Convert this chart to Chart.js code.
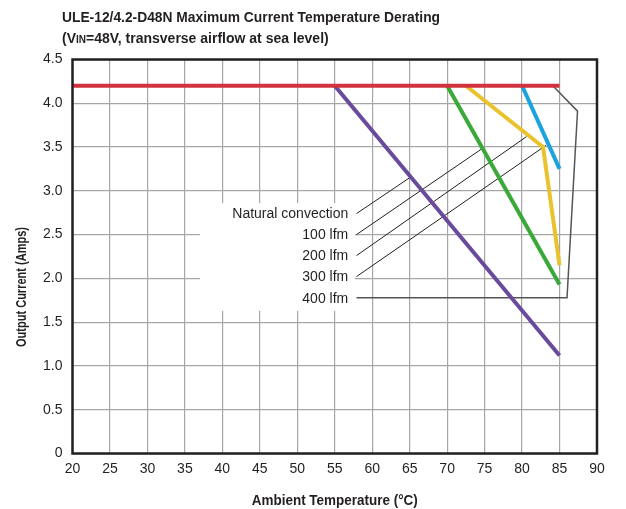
<!DOCTYPE html>
<html><head><meta charset="utf-8">
<script src="https://cdn.jsdelivr.net/npm/chart.js@4/dist/chart.umd.min.js"></script>
<style>html,body{margin:0;padding:0;background:#fff}canvas{display:block}</style>
</head><body>
<canvas id="c" width="626" height="509"></canvas>
<script>
// ---- data ----
const xTickValues = [20,25,30,35,40,45,50,55,60,65,70,75,80,85,90];
const yTickValues = [0,0.5,1.0,1.5,2.0,2.5,3.0,3.5,4.0,4.5];
const seriesNames = ['Natural convection','100 lfm','200 lfm','300 lfm','400 lfm'];

const natTemp   = [55, 85];          const natCurr   = [4.2, 1.12];
const lfm100Temp = [70, 85];         const lfm100Curr = [4.2, 1.93];
const lfm200Temp = [72.5, 82.8, 85]; const lfm200Curr = [4.2, 3.5, 2.15];
const lfm300Temp = [80, 85];         const lfm300Curr = [4.2, 3.25];
const lfm400Temp = [20, 85];         const lfm400Curr = [4.2, 4.2];

// leader lines (label -> curve), in data units
const leadNatX = [57.9, 65.0];  const leadNatY = [2.74, 3.15];
const lead100X = [57.9, 74.8];  const lead100Y = [2.50, 3.49];
const lead200X = [57.9, 80.6];  const lead200Y = [2.26, 3.62];
const lead300X = [57.9, 83.2];  const lead300Y = [2.02, 3.52];
const lead400X = [57.9, 86.0, 87.4, 84.1]; const lead400Y = [1.78, 1.78, 3.91, 4.2];

const labelX = 56.8;
const labelY = [2.74, 2.50, 2.26, 2.02, 1.78];

const title1 = 'ULE-12/4.2-D48N Maximum Current Temperature Derating';
const xTitle = 'Ambient Temperature (°C)';
const yTitle = 'Output Current (Amps)';

const pts = (xs, ys) => xs.map((x, i) => ({x, y: ys[i]}));
const TXT = '#231f20';
const FONT = "'Liberation Sans', Arial, sans-serif";

function curve(label, xs, ys, color, order) {
  return {label, data: pts(xs, ys), borderColor: color, backgroundColor: color,
    borderWidth: 4, pointRadius: 0, showLine: true, tension: 0, order,
    borderCapStyle: 'butt', borderJoinStyle: 'miter'};
}
function leader(xs, ys, color, w) {
  return {label: 'leader', data: pts(xs, ys), borderColor: color, borderWidth: w,
    pointRadius: 0, showLine: true, tension: 0, order: 20};
}

function drawRuns(ctx, runs, x, y, targetW) {
  let w = 0;
  runs.forEach(r => { ctx.font = r.font; w += ctx.measureText(r.t).width; });
  const s = targetW ? Math.min(1, targetW / w) : 1;
  ctx.save();
  ctx.translate(x, y);
  ctx.scale(s, 1);
  let cx = 0;
  runs.forEach(r => { ctx.font = r.font; ctx.fillText(r.t, cx, 0); cx += ctx.measureText(r.t).width; });
  ctx.restore();
}

const deco = {
  id: 'deco',
  beforeDatasetsDraw(chart) {
    const {ctx, scales: {x, y}} = chart;
    ctx.save();
    ctx.fillStyle = '#fff';
    const x0 = x.getPixelForValue(37.0), x1 = x.getPixelForValue(57.7);
    const y0 = y.getPixelForValue(2.86), y1 = y.getPixelForValue(1.63);
    ctx.fillRect(x0, y0, x1 - x0, y1 - y0);
    ctx.restore();
  },
  afterDatasetsDraw(chart) {
    const {ctx, chartArea: a, scales: {x, y}} = chart;
    ctx.save();
    ctx.strokeStyle = TXT;
    ctx.lineWidth = 2.5;
    ctx.strokeRect(a.left, a.top, a.right - a.left, a.bottom - a.top);
    ctx.fillStyle = TXT;
    ctx.textAlign = 'right';
    ctx.textBaseline = 'middle';
    ctx.font = '14px ' + FONT;
    seriesNames.forEach((n, i) => {
      const w = ctx.measureText(n).width;
      ctx.fillText(n, x.getPixelForValue(labelX), y.getPixelForValue(labelY[i]) + 1);
    });
    ctx.restore();
  },
  afterDraw(chart) {
    const {ctx, chartArea: a} = chart;
    ctx.save();
    ctx.fillStyle = TXT;
    ctx.textBaseline = 'alphabetic';
    ctx.textAlign = 'left';
    const B = 'bold 14px ' + FONT, Bs = 'bold 10px ' + FONT;
    drawRuns(ctx, [{t: title1, font: B}], 62, 22, 378);
    drawRuns(ctx, [{t: '(V', font: B}, {t: 'IN', font: Bs}, {t: '=48V, transverse airflow at sea level)', font: B}], 62, 43, 268);
    // x axis title
    ctx.font = B;
    let w = Math.min(ctx.measureText(xTitle).width, 166);
    drawRuns(ctx, [{t: xTitle, font: B}], (a.left + a.right) / 2 - w / 2, 505, 166);
    // y axis title
    ctx.translate(26, 287);
    ctx.rotate(-Math.PI / 2);
    ctx.font = B;
    w = Math.min(ctx.measureText(yTitle).width, 120);
    drawRuns(ctx, [{t: yTitle, font: B}], -w / 2, 0, 120);
    ctx.restore();
  }
};

new Chart(document.getElementById('c'), {
  type: 'scatter',
  data: {
    datasets: [
      curve('400 lfm', lfm400Temp, lfm400Curr, '#d1323e', 1),
      curve('300 lfm', lfm300Temp, lfm300Curr, '#1ba3dd', 5),
      curve('200 lfm', lfm200Temp, lfm200Curr, '#e9c22c', 6),
      curve('100 lfm', lfm100Temp, lfm100Curr, '#3aa93a', 7),
      curve('Natural convection', natTemp, natCurr, '#6a4b9b', 8),
      leader(leadNatX, leadNatY, '#231f20', 1),
      leader(lead100X, lead100Y, '#231f20', 1),
      leader(lead200X, lead200Y, '#231f20', 1),
      leader(lead300X, lead300Y, '#231f20', 1),
      leader(lead400X, lead400Y, '#555555', 1.5)
    ]
  },
  options: {
    responsive: false,
    animation: false,
    devicePixelRatio: 1,
    layout: {padding: {top: 59.5, right: 29, left: 0, bottom: 0}},
    plugins: {legend: {display: false}, tooltip: {enabled: false}, title: {display: false}},
    scales: {
      x: {
        type: 'linear', min: 20, max: 90,
        afterBuildTicks: s => { s.ticks = xTickValues.map(v => ({value: v})); },
        ticks: {color: TXT, font: {size: 14, family: FONT}, padding: 7, maxRotation: 0, autoSkip: false,
          callback: v => String(v)},
        grid: {color: '#a6a6a6', lineWidth: 1.2, drawTicks: false},
        border: {display: false},
        afterFit: s => { s.height = 509 - 453.5; }
      },
      y: {
        type: 'linear', min: 0, max: 4.5,
        afterBuildTicks: s => { s.ticks = yTickValues.map(v => ({value: v})); },
        ticks: {color: TXT, font: {size: 14, family: FONT}, padding: 10, autoSkip: false,
          callback: v => v === 0 ? '0' : v.toFixed(1)},
        grid: {color: '#a6a6a6', lineWidth: 1.2, drawTicks: false},
        border: {display: false},
        afterFit: s => { s.width = 72.5; }
      }
    }
  },
  plugins: [deco]
});
</script>
</body></html>
